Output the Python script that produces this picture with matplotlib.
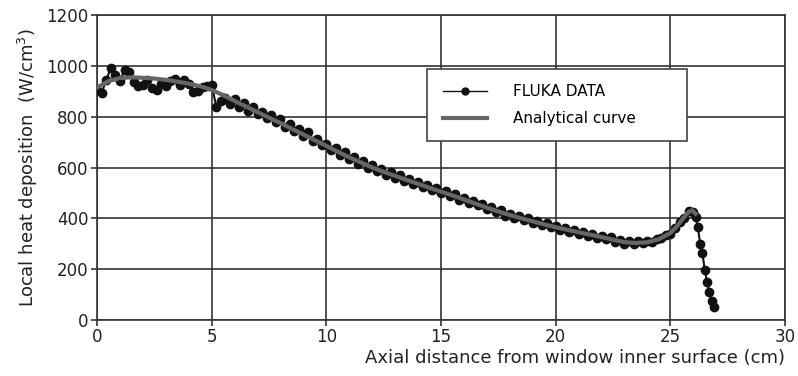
import numpy as np
import matplotlib
matplotlib.use("Agg")
import matplotlib.pyplot as plt

# FLUKA data
fluka_x = [0.0, 0.2, 0.4, 0.6, 0.8, 1.0, 1.2, 1.4, 1.6, 1.8, 2.0, 2.2, 2.4, 2.6, 2.8,
           3.0, 3.2, 3.4, 3.6, 3.8, 4.0, 4.2, 4.4, 4.6, 4.8, 5.0, 5.2, 5.4, 5.6, 5.8,
           6.0, 6.2, 6.4, 6.6, 6.8, 7.0, 7.2, 7.4, 7.6, 7.8, 8.0, 8.2, 8.4, 8.6, 8.8,
           9.0, 9.2, 9.4, 9.6, 9.8, 10.0, 10.2, 10.4, 10.6, 10.8, 11.0, 11.2, 11.4, 11.6, 11.8,
           12.0, 12.2, 12.4, 12.6, 12.8, 13.0, 13.2, 13.4, 13.6, 13.8, 14.0, 14.2, 14.4, 14.6, 14.8,
           15.0, 15.2, 15.4, 15.6, 15.8, 16.0, 16.2, 16.4, 16.6, 16.8, 17.0, 17.2, 17.4, 17.6, 17.8,
           18.0, 18.2, 18.4, 18.6, 18.8, 19.0, 19.2, 19.4, 19.6, 19.8, 20.0, 20.2, 20.4, 20.6, 20.8,
           21.0, 21.2, 21.4, 21.6, 21.8, 22.0, 22.2, 22.4, 22.6, 22.8, 23.0, 23.2, 23.4, 23.6, 23.8,
           24.0, 24.2, 24.4, 24.6, 24.8, 25.0, 25.2, 25.4, 25.6, 25.8, 26.0, 26.1, 26.2, 26.3, 26.4,
           26.5, 26.6, 26.7, 26.8, 26.9]
fluka_y = [905, 893, 945, 990, 965, 940, 985, 975, 935, 920, 925, 945, 912, 905, 930,
           922, 940, 950, 925, 945, 930, 898, 900, 918, 922, 925, 840, 860, 875, 850,
           868, 838, 852, 822, 840, 810, 818, 795, 808, 778, 790, 760, 770, 742, 752,
           725, 738, 705, 712, 688, 692, 668, 675, 650, 660, 632, 640, 615, 625, 598,
           610, 585, 594, 572, 582, 560, 572, 548, 555, 535, 542, 522, 532, 510, 518,
           500, 506, 486, 494, 474, 480, 462, 470, 452, 458, 436, 444, 424, 432, 410,
           418, 400, 410, 392, 400, 382, 390, 372, 380, 364, 370, 356, 362, 346, 356,
           340, 348, 332, 340, 324, 332, 318, 326, 308, 314, 298, 310, 300, 312, 302,
           310, 306, 320, 322, 336, 340, 362, 385, 402, 428, 425, 405, 365, 300, 262,
           198, 150, 110, 75, 50]

# analytical curve
fit_x = [0, 0.5, 1, 1.5, 2, 2.5, 3, 3.5, 4, 4.5, 5, 5.5, 6, 6.5, 7, 7.5, 8, 8.5, 9, 9.5,
         10, 10.5, 11, 11.5, 12, 12.5, 13, 13.5, 14, 14.5, 15, 15.5, 16, 16.5, 17, 17.5,
         18, 18.5, 19, 19.5, 20, 20.5, 21, 21.5, 22, 22.5, 23, 23.5, 24, 24.5, 25, 25.3,
         25.6, 25.8, 25.95, 26.1]
fit_y = [915, 940, 952, 955, 953, 950, 945, 938, 930, 920, 905, 885, 862, 840, 818, 796,
         775, 752, 730, 707, 685, 662, 640, 620, 600, 583, 567, 551, 536, 520, 505, 490,
         474, 458, 442, 427, 413, 400, 388, 376, 365, 355, 345, 336, 326, 316, 306, 303,
         306, 318, 342, 370, 405, 425, 432, 418]

fig = plt.figure(figsize=(7.98, 3.76), dpi=100)
ax = fig.add_axes([0.1216, 0.149, 0.8621, 0.811])

ax.plot(fluka_x, fluka_y, color='#111111', lw=1.5, marker='o', ms=6,
        label='FLUKA DATA', zorder=3)
ax.plot(fit_x, fit_y, color='#666666', lw=3, label='Analytical curve', zorder=4)

ax.set_xlim(0, 30)
ax.set_ylim(0, 1200)
ax.set_xticks(range(0, 31, 5))
ax.set_yticks(range(0, 1201, 200))
ax.grid(True, color='#333333', lw=1.2)
ax.set_axisbelow(True)
for s in ax.spines.values():
    s.set_color('#333333')
    s.set_linewidth(1.2)
ax.tick_params(labelsize=12, length=4, width=1.2, color='#333333', labelcolor='#222222', pad=2)

ax.set_xlabel('Axial distance from window inner surface (cm)', fontsize=13,
              color='#222222', loc='right', labelpad=2)
ax.set_ylabel('Local heat deposition  (W/cm$^3$)', fontsize=13, color='#222222',
              labelpad=5)

leg = ax.legend(loc='upper left', bbox_to_anchor=(0.48, 0.5833, 0.377, 0.2392),
                mode='expand', fontsize=11, fancybox=False, framealpha=1,
                edgecolor='#444444', borderpad=1.0, labelspacing=0.75,
                handlelength=2.9, handletextpad=1.7, borderaxespad=0)
leg.get_frame().set_linewidth(1.2)
leg.legend_handles[0].set_markersize(5)
leg.legend_handles[0].set_linewidth(1)
leg.set_zorder(5)

fig.savefig('out.png', dpi=100)
